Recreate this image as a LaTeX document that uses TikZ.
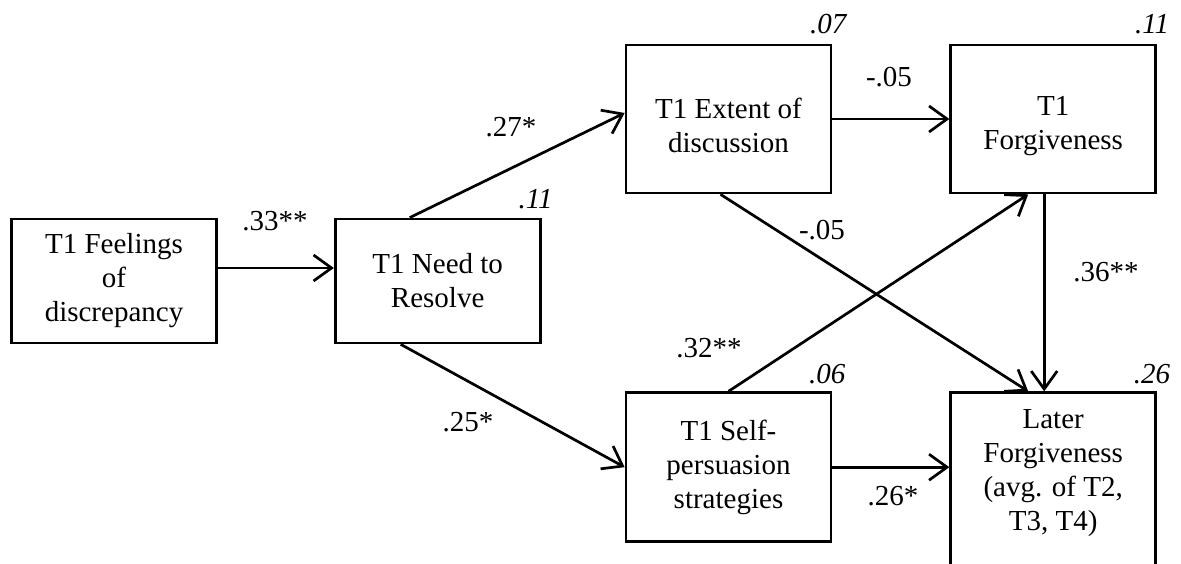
\documentclass[tikz,border=0pt]{standalone}
\usepackage{fontspec}
\setmainfont{Liberation Serif}
\usetikzlibrary{positioning, arrows.meta}

\newcommand{\topgap}{\rule{0pt}{34pt}}

\begin{document}
\begin{tikzpicture}[x=1pt, y=1pt,
  font=\fontsize{29}{34}\selectfont,
  var/.style={rectangle, draw=black, line width=2.7pt, align=center,
    minimum width=205pt, minimum height=124pt, inner sep=2pt},
  tall/.style={var, minimum height=148pt},
  coef/.style={inner sep=1pt},
  r2/.style={font=\fontsize{29}{34}\selectfont\itshape, inner sep=0pt},
  link/.style={-{Straight Barb[length=18pt, width=26pt]}, line width=2.7pt}
]
  \useasboundingbox (0,0) rectangle (1181,564);

  % variables
  \node[var] (feel) at (114,283) {T1 Feelings\\of\\discrepancy};
  \node[var, right=116pt of feel] (need) {T1 Need to\\Resolve};
  \node[tall] (ext) at (728.5,445) {\topgap T1 Extent of\\discussion};
  \node[tall, right=117pt of ext] (forg) {\topgap T1\\Forgiveness};
  \node[var, minimum height=149pt, below=197pt of ext] (self) {T1 Self-\\persuasion\\strategies};
  \node[var, minimum height=200pt, below=197pt of forg] (later)
    {Later\\Forgiveness\\(avg. of T2,\\T3, T4)\\[12pt]\mbox{}};

  % paths
  \draw[link] ([yshift=13pt]feel.east) -- ([yshift=13pt]need.west);
  \draw[link] ([xshift=-28pt]need.north) -- ([yshift=6pt]ext.west);
  \draw[link] ([xshift=-37pt]need.south) -- (self.west);
  \draw[link] (ext.east) -- (forg.west);
  \draw[link] ([xshift=-8pt]ext.south) -- ([xshift=-25pt]later.north);
  \draw[link] (self.north) -- ([xshift=-25pt]forg.south);
  \draw[link] ([xshift=-9pt]forg.south) -- ([xshift=-9pt]later.north);
  \draw[link] (self.east) -- (self.east -| later.west);

  % path coefficients
  \node[coef] (c33) at (275,343) {.33**};
  \node[coef] (c27) at (511,437) {.27*};
  \node[coef] (c25) at (468,142) {.25*};
  \node[coef] (cef) at (889,487) {-.05};
  \node[coef] (cel) at (822,334) {-.05};
  \node[coef] (c32) at (709,216) {.32**};
  \node[coef] (c36) at (1106,292) {.36**};
  \node[coef] (c26) at (893,68) {.26*};

  % explained variance
  \node[r2] (rneed) at ([shift={(-6pt,19pt)}]need.north east) {.11};
  \node[r2] (rext) at ([shift={(-4pt,20pt)}]ext.north east) {.07};
  \node[r2] (rforg) at ([shift={(-5pt,20pt)}]forg.north east) {.11};
  \node[r2] (rself) at ([shift={(-5pt,17pt)}]self.north east) {.06};
  \node[r2] (rlater) at ([shift={(-5pt,17pt)}]later.north east) {.26};
\end{tikzpicture}
\end{document}
